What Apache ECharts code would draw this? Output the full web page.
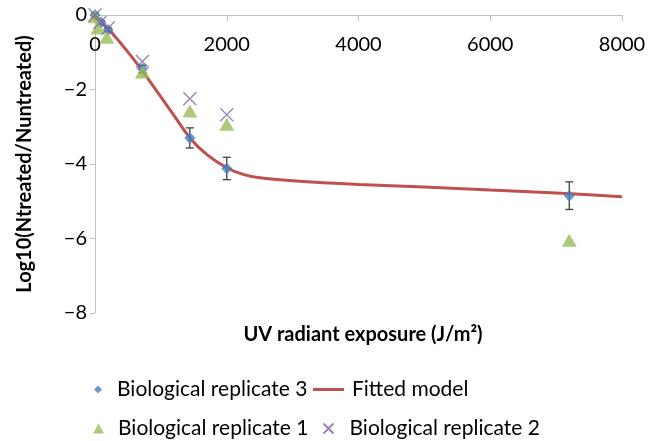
<!DOCTYPE html>
<html>
<head>
<meta charset="utf-8">
<script src="https://cdn.jsdelivr.net/npm/echarts@6/dist/echarts.min.js"></script>
<style>
  html, body { margin: 0; padding: 0; background: #fff; }
  #main { width: 654px; height: 441px; }
</style>
</head>
<body>
<div id="main"></div>
<script>
// exposure (J/m2) and log reductions
var rep3X = [0, 90, 200, 720, 1440, 2000, 7200];
var rep3Y = [0, -0.2, -0.4, -1.45, -3.3, -4.12, -4.85];
var rep3Err = [0.05, 0.05, 0.05, 0.1, 0.27, 0.3, 0.37];

var rep1X = [0, 45, 180, 720, 1440, 2000, 7200];
var rep1Y = [-0.05, -0.35, -0.6, -1.53, -2.58, -2.93, -6.05];

var rep2X = [0, 75, 200, 720, 1440, 2000];
var rep2Y = [0, -0.2, -0.35, -1.25, -2.25, -2.68];

var fitX = [0, 240, 480, 720, 960, 1200, 1440, 1700, 2000, 2250, 2500, 3000, 4000, 5000, 6000, 7000, 8000];
var fitY = [0, -0.45, -0.95, -1.5, -2.1, -2.7, -3.3, -3.75, -4.1, -4.28, -4.37, -4.45, -4.55, -4.62, -4.7, -4.78, -4.88];

var FONT = 'Lato';
var chart = echarts.init(document.getElementById('main'));

function legendText(padLeft) {
  return { fontFamily: FONT, fontSize: 21, color: '#000', padding: [0, 0, 0, padLeft] };
}
var crossPath = 'path://M0,0 L1,1 M1,0 L0,1';

var option = {
  animation: false,
  grid: { left: 95, right: 32, top: 15, bottom: 128 },
  title: {
    text: 'UV radiant exposure (J/m²)',
    left: 358, top: 320, textAlign: 'center',
    textStyle: { fontFamily: FONT, fontSize: 20, fontWeight: 'bold', color: '#000' }
  },
  legend: [
    { data: [{ name: 'Biological replicate 3', icon: 'diamond' }], left: 89, top: 374, itemWidth: 8, itemHeight: 8, textStyle: legendText(10) },
    { data: [{ name: 'Fitted model', icon: 'rect' }], left: 308, top: 374, itemWidth: 31, itemHeight: 3, textStyle: legendText(3) },
    { data: [{ name: 'Biological replicate 1', icon: 'triangle' }], left: 88, top: 413, itemWidth: 11, itemHeight: 10, textStyle: legendText(9) },
    { data: [{ name: 'Biological replicate 2', icon: crossPath }], left: 316, top: 413, itemWidth: 10, itemHeight: 10, textStyle: legendText(11) }
  ],
  xAxis: {
    type: 'value', min: 0, max: 8000, interval: 2000, position: 'top',
    axisLine: { onZero: false, lineStyle: { color: '#bfbfbf', width: 1 } },
    axisTick: { show: true, inside: true, length: 6, lineStyle: { color: '#bfbfbf' } },
    axisLabel: {
      inside: true, fontFamily: FONT, fontSize: 20, color: '#000', margin: 20,
      formatter: function (v) { return String(v); }
    },
    splitLine: { show: false }
  },
  yAxis: {
    type: 'value', min: -8, max: 0, interval: 2,
    name: 'Log10(Ntreated/Nuntreated)', nameLocation: 'middle', nameGap: 60,
    nameTextStyle: { fontFamily: FONT, fontSize: 20, fontWeight: 'bold', color: '#000' },
    axisLine: { show: true, lineStyle: { color: '#bfbfbf', width: 1 } },
    axisTick: { show: true, length: 5, lineStyle: { color: '#bfbfbf' } },
    axisLabel: {
      fontFamily: FONT, fontSize: 20, color: '#000', margin: 8,
      formatter: function (v) { return String(v).replace('-', '\u2212'); }
    },
    splitLine: { show: false }
  },
  series: [
    {
      name: 'Fitted model', type: 'line', data: fitX.map(function (x, i) { return [x, fitY[i]]; }),
      smooth: 0.3, symbol: 'none', z: 2,
      lineStyle: { color: '#c0504d', width: 3 },
      itemStyle: { color: '#c0504d' }
    },
    {
      name: 'rep3err', type: 'custom', z: 3,
      data: rep3X.map(function (x, i) { return [x, rep3Y[i] - rep3Err[i], rep3Y[i] + rep3Err[i]]; }),
      renderItem: function (params, api) {
        var lo = api.coord([api.value(0), api.value(1)]);
        var hi = api.coord([api.value(0), api.value(2)]);
        var w = 4;
        var st = { stroke: '#404040', lineWidth: 1.3 };
        return {
          type: 'group',
          children: [
            { type: 'line', shape: { x1: lo[0], y1: lo[1], x2: hi[0], y2: hi[1] }, style: st },
            { type: 'line', shape: { x1: lo[0] - w, y1: lo[1], x2: lo[0] + w, y2: lo[1] }, style: st },
            { type: 'line', shape: { x1: hi[0] - w, y1: hi[1], x2: hi[0] + w, y2: hi[1] }, style: st }
          ]
        };
      }
    },
    {
      name: 'Biological replicate 3', type: 'scatter', data: rep3X.map(function (x, i) { return [x, rep3Y[i]]; }),
      symbol: 'diamond', symbolSize: [11, 12], z: 4,
      itemStyle: { color: '#4a7ebb' }
    },
    {
      name: 'Biological replicate 1', type: 'scatter', data: rep1X.map(function (x, i) { return [x, rep1Y[i]]; }),
      symbol: 'triangle', symbolSize: [15, 13], z: 5,
      itemStyle: { color: '#9bbb59' }
    },
    {
      name: 'Biological replicate 2', type: 'scatter', data: rep2X.map(function (x, i) { return [x, rep2Y[i]]; }),
      symbol: crossPath, symbolSize: 13, z: 6,
      itemStyle: { color: 'none', borderColor: '#8064a2', borderWidth: 1.3 }
    }
  ]
};

chart.setOption(option);
</script>
</body>
</html>
